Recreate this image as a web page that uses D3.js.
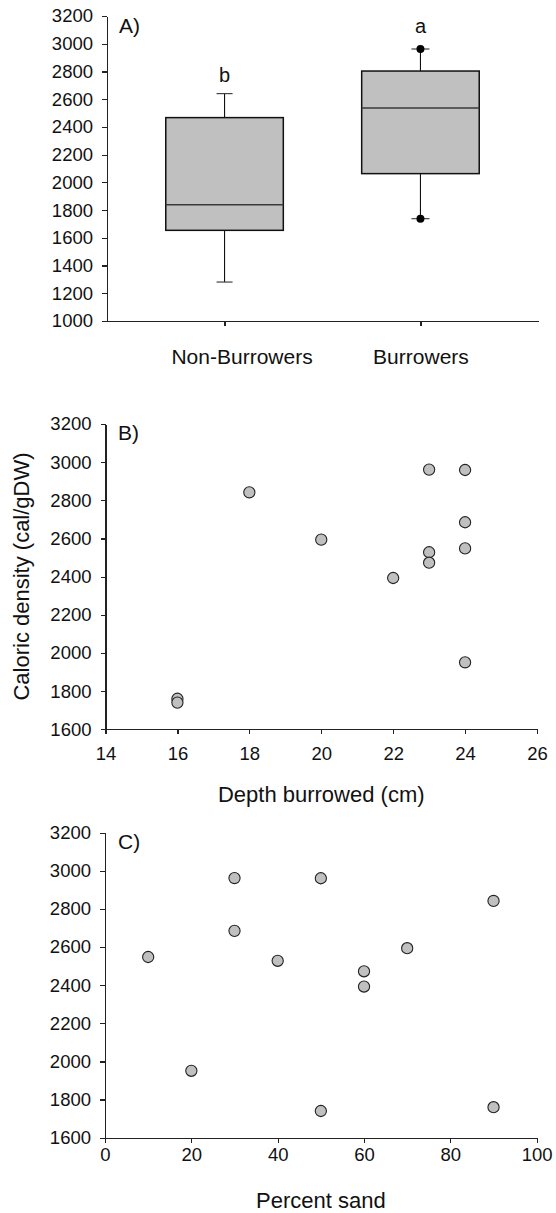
<!DOCTYPE html>
<html>
<head>
<meta charset="utf-8">
<script src="https://cdn.jsdelivr.net/npm/d3@7"></script>
<style>
  html, body { margin: 0; padding: 0; background: #fff; }
  svg { display: block; font-family: "Liberation Sans", Arial, sans-serif; }
  .axis path, .axis line { stroke: #222; stroke-width: 1.2; shape-rendering: crispEdges; }
  .axis text { fill: #111; font-size: 18.5px; font-family: "Liberation Sans", Arial, sans-serif; }
</style>
</head>
<body>
<svg id="chart" width="556" height="1213"></svg>
<script>
// Panel A: caloric density box summaries per group
const categories = ["Non-Burrowers", "Burrowers"];
const whiskerLow = [1281, 1738];
const quartile1 = [1654, 2063];
const medians = [1839, 2536];
const quartile3 = [2467, 2803];
const whiskerHigh = [2640, 2962];
const extremePoints = [[], [1738, 2962]];
const groupLetters = ["b", "a"];
const ticksA = [1000, 1200, 1400, 1600, 1800, 2000, 2200, 2400, 2600, 2800, 3000, 3200];

// Panel B: caloric density against burrowing depth
const depthCm = [16, 16, 18, 20, 22, 23, 23, 23, 24, 24, 24, 24];
const caloricByDepth = [1760, 1740, 2842, 2594, 2393, 2961, 2528, 2473, 2959, 2685, 2548, 1951];
const ticksDepth = [14, 16, 18, 20, 22, 24, 26];

// Panel C: caloric density against sediment sand content
const sandPct = [10, 20, 30, 30, 40, 50, 50, 60, 60, 70, 90, 90];
const caloricBySand = [2548, 1951, 2962, 2685, 2528, 2961, 1740, 2473, 2393, 2594, 2842, 1760];
const ticksSand = [0, 20, 40, 60, 80, 100];

const ticksCal = [1600, 1800, 2000, 2200, 2400, 2600, 2800, 3000, 3200];

const svg = d3.select("#chart");
const fmt = d3.format("d");

function leftAxis(g, y, ticks) {
  g.attr("class", "axis")
    .call(d3.axisLeft(y).tickValues(ticks).tickFormat(fmt).tickSize(5).tickPadding(9).tickSizeOuter(0));
}

// ---------- Panel A ----------
const xA = d3.scalePoint().domain(categories).range([107, 538]).padding(0.6);
const yA = d3.scaleLinear().domain([1000, 3200]).range([321, 16]);
const gA = svg.append("g");

leftAxis(gA.append("g").attr("transform", "translate(107,0)"), yA, ticksA);
const axA = gA.append("g").attr("class", "axis").attr("transform", "translate(0,321)")
  .call(d3.axisBottom(xA).tickSize(5).tickPadding(23).tickSizeOuter(0));
axA.selectAll("text").style("font-size", "21px");
axA.selectAll(".tick").filter((d, i) => i === 0).select("text").attr("x", 17);

const boxW = xA.step() * 0.6;
const capW = [16, 18];
const groups = gA.append("g").selectAll("g").data(categories).join("g")
  .attr("transform", d => `translate(${xA(d)},0)`);

// whiskers
groups.append("line")
  .attr("x1", 0).attr("x2", 0)
  .attr("y1", (d, i) => yA(whiskerLow[i])).attr("y2", (d, i) => yA(whiskerHigh[i]))
  .attr("stroke", "#111").attr("stroke-width", 1.1);
groups.each(function (d, i) {
  const g = d3.select(this);
  [whiskerLow[i], whiskerHigh[i]].forEach(v => {
    g.append("line")
      .attr("x1", -capW[i] / 2).attr("x2", capW[i] / 2)
      .attr("y1", yA(v)).attr("y2", yA(v))
      .attr("stroke", "#333").attr("stroke-width", 1.1);
  });
});
// boxes
groups.append("rect")
  .attr("x", -boxW / 2).attr("width", boxW)
  .attr("y", (d, i) => yA(quartile3[i]))
  .attr("height", (d, i) => yA(quartile1[i]) - yA(quartile3[i]))
  .attr("fill", "#c0c0c0").attr("stroke", "#111").attr("stroke-width", 1.5);
groups.append("line")
  .attr("x1", -boxW / 2).attr("x2", boxW / 2)
  .attr("y1", (d, i) => yA(medians[i])).attr("y2", (d, i) => yA(medians[i]))
  .attr("stroke", "#3a3a3a").attr("stroke-width", 1.4);
// extreme values
groups.each(function (d, i) {
  d3.select(this).selectAll("circle").data(extremePoints[i]).join("circle")
    .attr("cx", 0).attr("cy", v => yA(v)).attr("r", 4).attr("fill", "#000");
});
// significance letters
groups.append("text")
  .attr("x", 0)
  .attr("y", (d, i) => yA(whiskerHigh[i]) - 12 - (extremePoints[i].length ? 4 : 0))
  .attr("text-anchor", "middle")
  .style("font-size", "20px").attr("fill", "#111")
  .text((d, i) => groupLetters[i]);

gA.append("text").attr("x", 119).attr("y", 33).style("font-size", "21px").attr("fill", "#111").text("A)");

// ---------- Scatter panels ----------
function scatter(cfg) {
  const g = svg.append("g");
  const x = d3.scaleLinear().domain(cfg.xDomain).range([cfg.left, cfg.right]);
  const y = d3.scaleLinear().domain([1600, 3200]).range([cfg.bottom, cfg.top]);
  leftAxis(g.append("g").attr("transform", `translate(${cfg.left},0)`), y, ticksCal);
  g.append("g").attr("class", "axis").attr("transform", `translate(0,${cfg.bottom})`)
    .call(d3.axisBottom(x).tickValues(cfg.ticks).tickFormat(fmt).tickSize(5).tickPadding(cfg.pad).tickSizeOuter(0));
  g.append("g").selectAll("circle").data(cfg.xs).join("circle")
    .attr("cx", d => x(d)).attr("cy", (d, i) => y(cfg.ys[i])).attr("r", 5.6)
    .attr("fill", "#c0c0c0").attr("stroke", "#222").attr("stroke-width", 1.1);
  g.append("text").attr("x", 118).attr("y", cfg.top + 16).style("font-size", "21px").attr("fill", "#111").text(cfg.tag);
  g.append("text").attr("x", (cfg.left + cfg.right) / 2).attr("y", cfg.titleY)
    .attr("text-anchor", "middle").style("font-size", "22px").attr("fill", "#111").text(cfg.title);
  return { x, y };
}

scatter({ xDomain: [14, 26], left: 105.5, right: 537, top: 424, bottom: 729.3, ticks: ticksDepth, pad: 13,
  xs: depthCm, ys: caloricByDepth, tag: "B)", title: "Depth burrowed (cm)", titleY: 802 });

scatter({ xDomain: [0, 100], left: 105, right: 536.7, top: 832.7, bottom: 1137.7, ticks: ticksSand, pad: 5,
  xs: sandPct, ys: caloricBySand, tag: "C)", title: "Percent sand", titleY: 1208 });

svg.append("text")
  .attr("transform", "translate(29,576.5) rotate(-90)")
  .attr("text-anchor", "middle").style("font-size", "22px").attr("fill", "#111")
  .text("Caloric density (cal/gDW)");
</script>
</body>
</html>
